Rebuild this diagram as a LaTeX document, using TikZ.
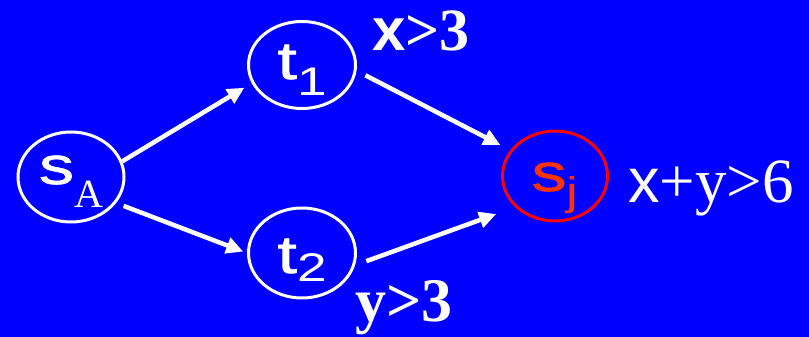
\documentclass[tikz,border=0pt]{standalone}
\usepackage{fontspec}
\setmainfont{Liberation Serif}
\newfontfamily\arialf{Liberation Sans}
\newfontfamily\arialfb[FakeBold=1]{Liberation Sans}
\usetikzlibrary{arrows.meta,shapes.geometric}
\definecolor{bgblue}{RGB}{0,0,255}
\definecolor{sjred}{RGB}{255,0,0}
\definecolor{sjtext}{RGB}{255,51,0}
\newcommand{\nodetext}[2]{\smash{\raisebox{-#1}{#2}}}
\newcommand{\mainletter}[1]{\scalebox{1.33}[1]{\arialfb\fontsize{53}{60}\selectfont #1}}
\newcommand{\subserif}[2]{\raisebox{-#1}{\rmfamily\fontsize{40}{45}\selectfont #2}}
\newcommand{\subsans}[2]{\raisebox{-#1}{\scalebox{1.33}[1]{\arialf\fontsize{40}{45}\selectfont #2}}}
\begin{document}
\begin{tikzpicture}[x=1pt,y=1pt,
  state/.style={ellipse, draw=white, line width=3pt, inner sep=0pt, text=white},
  flow/.style={draw=white, line width=4.5pt, -{Triangle[length=17pt,width=16pt]}},
  cond/.style={text=white, anchor=base west, inner sep=0pt}]
\fill[bgblue] (0,0) rectangle (809,337);
\useasboundingbox (0,0) rectangle (809,337);

\node[state, minimum width=106pt, minimum height=90pt] (sA) at (71,160)
  {\nodetext{7pt}{\mainletter{s}\subserif{24pt}{A}}};
\node[state, minimum width=107pt, minimum height=87pt] (t1) at (302,272)
  {\nodetext{14pt}{\mainletter{t}\subsans{17pt}{1}}};
\node[state, minimum width=107pt, minimum height=90pt] (t2) at (302,84)
  {\nodetext{20pt}{\mainletter{t}\subsans{9pt}{2}}};
\node[state, draw=sjred, text=sjtext, minimum width=105pt, minimum height=90pt] (sj) at (555,161)
  {\nodetext{15pt}{\mainletter{s}\subsans{15pt}{j}}};

\draw[flow, shorten >=8.6pt] (sA.17.1) -- (t1.200.8);
\draw[flow, shorten <=8pt, shorten >=4pt] (sA.-30) -- (t2.180);
\draw[flow, shorten <=10pt, shorten >=11pt] (t1.-6.1) -- (sj.150.6);
\draw[flow, shorten <=12pt, shorten >=20pt] (t2.-13) -- (sj.218.7);

\node[cond] (c1) at (372,286) {\fontsize{60}{60}\selectfont\bfseries{\arialf x}>3};
\node[cond] (c2) at (355,15) {\fontsize{62}{62}\selectfont\bfseries y>3};
\node[cond] (c3) at (628,134) {\fontsize{63}{63}\selectfont{\arialf x}+y>6};
\end{tikzpicture}
\end{document}
